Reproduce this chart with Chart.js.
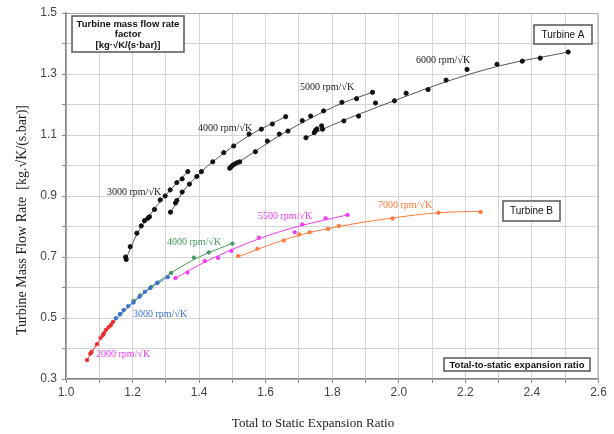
<!DOCTYPE html>
<html>
<head>
<meta charset="utf-8">
<script src="https://cdn.jsdelivr.net/npm/chart.js@4/dist/chart.umd.min.js"></script>
<style>
  html, body { margin: 0; padding: 0; background: #fff; }
  #wrap { width: 614px; height: 434px; position: relative; }
</style>
</head>
<body>
<div id="wrap"><canvas id="chart"></canvas></div>
<script>
// ------------- Data -------------
// [expansion ratio, mass flow rate factor]
const turbA3000 = [[1.181,0.692],[1.179,0.700],[1.193,0.734],[1.213,0.778],[1.226,0.802],[1.236,0.819],
  [1.246,0.827],[1.251,0.832],[1.266,0.856],[1.283,0.887],[1.298,0.900],[1.313,0.920],[1.333,0.944],[1.349,0.956],[1.366,0.980]];
const turbA4000 = [[1.314,0.847],[1.329,0.877],[1.333,0.885],[1.349,0.913],[1.371,0.939],[1.393,0.964],[1.407,0.980],
  [1.441,1.012],[1.474,1.042],[1.504,1.064],[1.550,1.103],[1.587,1.119],[1.620,1.136],[1.660,1.160]];
const turbA5000 = [[1.492,0.991],[1.496,0.996],[1.501,1.001],[1.507,1.005],[1.514,1.009],[1.522,1.012],[1.569,1.045],
  [1.605,1.080],[1.641,1.103],[1.667,1.113],[1.710,1.147],[1.735,1.162],[1.774,1.179],[1.829,1.207],[1.873,1.219],[1.921,1.240]];
const turbA6000 = [[1.721,1.091],[1.746,1.108],[1.750,1.116],[1.754,1.120],[1.768,1.130],[1.771,1.119],[1.835,1.146],
  [1.879,1.162],[1.930,1.205],[1.987,1.212],[2.022,1.237],[2.088,1.249],[2.142,1.280],[2.205,1.315],[2.295,1.332],
  [2.371,1.342],[2.425,1.352],[2.509,1.372]];

const turbB2000 = [[1.063,0.362],[1.073,0.383],[1.077,0.389],[1.093,0.414],[1.104,0.435],[1.111,0.444],[1.114,0.450],
  [1.120,0.461],[1.128,0.470],[1.135,0.477],[1.141,0.487]];
const turbB3000 = [[1.150,0.499],[1.162,0.513],[1.173,0.526],[1.187,0.539],[1.203,0.551],[1.221,0.570],[1.237,0.586],
  [1.253,0.598],[1.274,0.615],[1.306,0.634]];
const turbB4000 = [[1.163,0.512],[1.203,0.556],[1.223,0.574],[1.256,0.602],[1.275,0.616],[1.316,0.648],[1.384,0.698],
  [1.429,0.715],[1.500,0.744]];
const turbB5500 = [[1.329,0.631],[1.365,0.649],[1.417,0.687],[1.457,0.697],[1.497,0.720],[1.580,0.763],[1.687,0.781],
  [1.710,0.807],[1.780,0.827],[1.846,0.838]];
const turbB7000 = [[1.517,0.703],[1.575,0.727],[1.655,0.754],[1.701,0.774],[1.732,0.781],[1.787,0.792],[1.820,0.802],
  [1.981,0.826],[2.119,0.845],[2.246,0.847]];

// fitted curves as drawn in the figure
const fitA3000 = [[1.179,0.690],[1.213,0.775],[1.251,0.836],[1.298,0.901],[1.366,0.980]];
const fitA4000 = [[1.314,0.845],[1.350,0.912],[1.407,0.980],[1.474,1.040],[1.550,1.098],[1.660,1.160]];
const fitA5000 = [[1.490,0.990],[1.569,1.047],[1.641,1.098],[1.735,1.155],[1.829,1.204],[1.921,1.240]];
const fitA6000 = [[1.720,1.090],[1.770,1.118],[1.880,1.168],[2.000,1.218],[2.140,1.274],[2.300,1.326],[2.509,1.372]];
const fitB2000 = [[1.063,0.362],[1.100,0.426],[1.147,0.492]];
const fitB3000 = [[1.147,0.492],[1.203,0.552],[1.253,0.598],[1.306,0.634]];
const fitB4000 = [[1.160,0.510],[1.230,0.580],[1.316,0.648],[1.400,0.700],[1.500,0.745]];
const fitB5500 = [[1.329,0.631],[1.420,0.685],[1.580,0.760],[1.700,0.801],[1.846,0.838]];
const fitB7000 = [[1.517,0.700],[1.600,0.735],[1.700,0.771],[1.820,0.800],[1.981,0.828],[2.119,0.845],[2.246,0.850]];

const xTicks = [1.0, 1.2, 1.4, 1.6, 1.8, 2.0, 2.2, 2.4, 2.6];
const yTicks = [0.3, 0.5, 0.7, 0.9, 1.1, 1.3, 1.5];

// ------------- Helpers -------------
const pts = arr => arr.map(([x, y]) => ({ x, y }));

function markers(arr, color, r) {
  return { type: 'scatter', data: pts(arr), backgroundColor: color, borderColor: color,
    pointRadius: r, pointHoverRadius: r, showLine: false, order: 1 };
}
function curve(arr, color) {
  return { type: 'scatter', data: pts(arr), borderColor: color, borderWidth: 1, pointRadius: 0,
    showLine: true, tension: 0.4, cubicInterpolationMode: 'monotone', order: 2 };
}

const BLACK = '#111', LINE_GREY = '#555';
const RED = '#ee2a2a', BLUE = '#3b6fd6', GREEN = '#3f9a5c', MAGENTA = '#f23cf0', ORANGE = '#ff7a3a';

// ------------- Labels / boxes -------------
const curveLabels = [
  { text: '3000 rpm/\u221AK', x: 107, y: 192, color: '#222' },
  { text: '4000 rpm/\u221AK', x: 198, y: 128, color: '#222' },
  { text: '5000 rpm/\u221AK', x: 300, y: 87,  color: '#222' },
  { text: '6000 rpm/\u221AK', x: 416, y: 60,  color: '#222' },
  { text: '4000 rpm/\u221AK', x: 167, y: 242, color: GREEN },
  { text: '3000 rpm/\u221AK', x: 133, y: 314, color: BLUE },
  { text: '2000 rpm/\u221AK', x: 96,  y: 354, color: MAGENTA },
  { text: '5500 rpm/\u221AK', x: 258, y: 216, color: MAGENTA },
  { text: '7000 rpm/\u221AK', x: 378, y: 205, color: ORANGE }
];

const boxes = [
  { x: 72, y: 16, w: 112, h: 36, font: 'bold 9.5px "Liberation Sans", Arial, sans-serif',
    lines: ['Turbine mass flow rate', 'factor', '[kg\u00B7\u221AK/(s\u00B7bar)]'] },
  { x: 534, y: 25, w: 58, h: 19, font: '10px "Liberation Sans", Arial, sans-serif', lines: ['Turbine A'] },
  { x: 503, y: 201, w: 57, h: 20, font: '10px "Liberation Sans", Arial, sans-serif', lines: ['Turbine B'] },
  { x: 444, y: 358, w: 146, h: 13, font: 'bold 9.5px "Liberation Sans", Arial, sans-serif',
    lines: ['Total-to-static expansion ratio'] }
];

const decor = {
  id: 'decor',
  afterDraw(chart) {
    const { ctx, chartArea: a } = chart;
    ctx.save();
    // plot frame
    ctx.strokeStyle = '#a8a8a8';
    ctx.lineWidth = 1;
    ctx.strokeRect(a.left + 0.5, a.top + 0.5, a.right - a.left - 1, a.bottom - a.top);

    // curve labels
    ctx.font = '10px "Liberation Serif", "Times New Roman", serif';
    ctx.textAlign = 'left';
    ctx.textBaseline = 'middle';
    for (const l of curveLabels) {
      ctx.fillStyle = l.color;
      ctx.fillText(l.text, l.x, l.y);
    }

    // boxes
    for (const b of boxes) {
      ctx.fillStyle = '#fff';
      ctx.fillRect(b.x, b.y, b.w, b.h);
      ctx.strokeStyle = '#555';
      ctx.lineWidth = 1.5;
      ctx.strokeRect(b.x, b.y, b.w, b.h);
      ctx.fillStyle = '#111';
      ctx.font = b.font;
      ctx.textAlign = 'center';
      const lh = 10.5;
      const y0 = b.y + b.h / 2 - (b.lines.length - 1) * lh / 2;
      b.lines.forEach((t, i) => ctx.fillText(t, b.x + b.w / 2, y0 + i * lh + 0.5));
    }

    // axis titles
    ctx.fillStyle = '#222';
    ctx.font = '13px "Liberation Serif", "Times New Roman", serif';
    ctx.textAlign = 'center';
    ctx.fillText('Total to Static Expansion Ratio', 313, 424);
    ctx.font = '14px "Liberation Serif", "Times New Roman", serif';
    ctx.translate(22, 220);
    ctx.rotate(-Math.PI / 2);
    ctx.fillText('Turbine Mass Flow Rate  [kg.\u221AK/(s.bar)]', 0, 0);
    ctx.restore();
  }
};

// ------------- Chart -------------
const tickFont = { family: '"Liberation Sans", Arial, sans-serif', size: 12 };
const showMajor = list => (v) => list.some(t => Math.abs(t - v) < 1e-6) ? v.toFixed(1) : '';

new Chart(document.getElementById('chart'), {
  type: 'scatter',
  data: {
    datasets: [
      curve(fitA3000, LINE_GREY), curve(fitA4000, LINE_GREY), curve(fitA5000, LINE_GREY), curve(fitA6000, LINE_GREY),
      curve(fitB2000, RED), curve(fitB3000, BLUE), curve(fitB4000, GREEN), curve(fitB5500, MAGENTA), curve(fitB7000, ORANGE),
      markers(turbA3000, BLACK, 2.1), markers(turbA4000, BLACK, 2.1), markers(turbA5000, BLACK, 2.1), markers(turbA6000, BLACK, 2.1),
      markers(turbB2000, RED, 1.7), markers(turbB3000, BLUE, 1.7), markers(turbB4000, GREEN, 1.7),
      markers(turbB5500, MAGENTA, 1.7), markers(turbB7000, ORANGE, 1.7)
    ]
  },
  options: {
    animation: false,
    responsive: true,
    maintainAspectRatio: false,
    layout: { padding: { top: 13, right: 15.5, left: 0, bottom: 0 } },
    plugins: { legend: { display: false }, tooltip: { enabled: false } },
    scales: {
      x: {
        type: 'linear', min: 1.0, max: 2.6,
        afterFit: s => { s.height = 55; },
        ticks: { stepSize: 0.1, autoSkip: false, maxRotation: 0, padding: 2, color: '#444', font: tickFont,
          callback: showMajor(xTicks) },
        grid: { color: '#d6d6d6', lineWidth: 1, tickLength: 4, tickColor: '#888' },
        border: { color: '#888', width: 1.5 }
      },
      y: {
        type: 'linear', min: 0.3, max: 1.5,
        afterFit: s => { s.width = 66; },
        ticks: { stepSize: 0.1, autoSkip: false, padding: 5, color: '#444', font: tickFont,
          callback: showMajor(yTicks) },
        grid: { color: '#d6d6d6', lineWidth: 1, tickLength: 4, tickColor: '#888' },
        border: { color: '#888', width: 1.5 }
      }
    }
  },
  plugins: [decor]
});
</script>
</body>
</html>
